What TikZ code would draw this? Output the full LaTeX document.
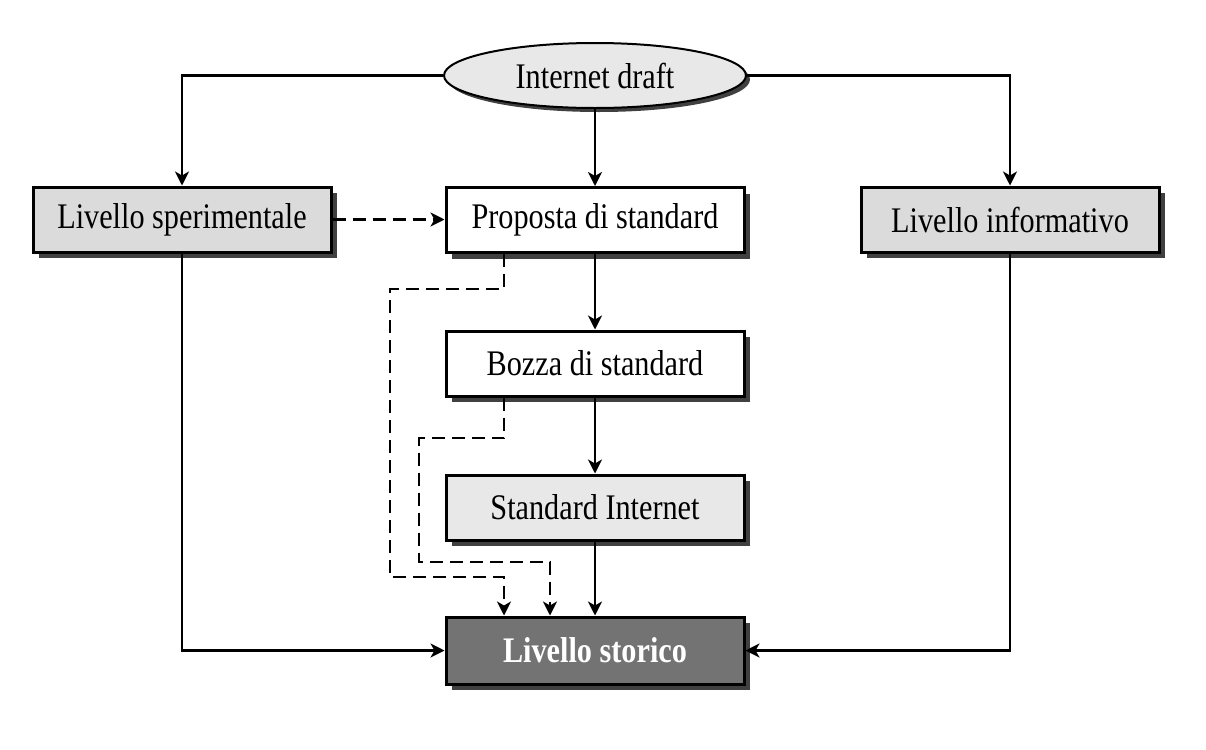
\documentclass[tikz,border=0pt]{standalone}
\usepackage{fontspec}
\setmainfont{Liberation Serif}[FakeStretch=0.84]
\usetikzlibrary{shapes.geometric,shadows,arrows.meta}
\tikzset{
  box/.style={draw=black, line width=1.5pt, minimum width=149pt, minimum height=32.5pt, inner sep=0pt,
    font=\fontsize{18}{20}\selectfont, drop shadow={shadow xshift=3.2pt, shadow yshift=-3.2pt, fill=black!75, opacity=1}},
  lightbox/.style={box, fill=black!14},
  whitebox/.style={box, fill=white},
  darkbox/.style={box, fill=black!55, text=white, font=\fontsize{18}{20}\selectfont\bfseries},
  oval/.style={ellipse, draw=black, line width=1pt, fill=black!9, minimum width=151pt, minimum height=32.5pt, inner sep=0pt,
    font=\fontsize{18}{20}\selectfont, drop shadow={shadow xshift=2pt, shadow yshift=-2pt, fill=black!75, opacity=1}},
  conn/.style={line width=1.1pt, -{Stealth[length=7pt,width=7pt,inset=2pt]}},
  dconn/.style={conn, dash pattern=on 6.5pt off 3.5pt},
  dconnthin/.style={conn, line width=0.9pt, dash pattern=on 6.5pt off 3.5pt},
}
\begin{document}
\begin{tikzpicture}[x=0.5pt, y=-0.5pt]
\useasboundingbox[fill=white] (0,0) rectangle (1206,750);
\node[oval] (draft) at (595,75.5) {Internet draft};
\node[lightbox] (spe) at (182,219.5) {Livello sperimentale};
\node[whitebox] (prop) at (595,220) {Proposta di standard};
\node[lightbox] (info) at (1010,219.5) {Livello informativo};
\node[whitebox] (bozza) at (595,363.5) {Bozza di standard};
\node[lightbox, fill=black!9] (stdi) at (595,507.5) {Standard Internet};
\node[darkbox, minimum height=33.5pt] (stor) at (595,650.5) {Livello storico};

\coordinate (xa) at (504,0);
\coordinate (xb) at (550,0);
\coordinate (k1) at (390,289);
\coordinate (k2) at (504,577);
\coordinate (k3) at (419,438);
\coordinate (k4) at (550,562);

\draw[conn] (draft.west) -| (spe.north);
\draw[conn] (draft.east) -| (info.north);
\draw[conn] (draft.south) -- (prop.north);
\draw[dconn] (spe.east) -- (spe.east -| prop.west);
\draw[conn] (prop.south) -- (bozza.north);
\draw[conn] (bozza.south) -- (stdi.north);
\draw[conn] (stdi.south) -- (stor.north);
\draw[conn] (spe.south) |- (stor.west);
\draw[conn] (info.south) |- (stor.east);
\draw[dconn] (prop.south -| xa) |- (k1) |- (k2) -- (stor.north -| xa);
\draw[dconnthin] (bozza.south -| xa) |- (k3) |- (k4) -- (stor.north -| xb);
\end{tikzpicture}
\end{document}
